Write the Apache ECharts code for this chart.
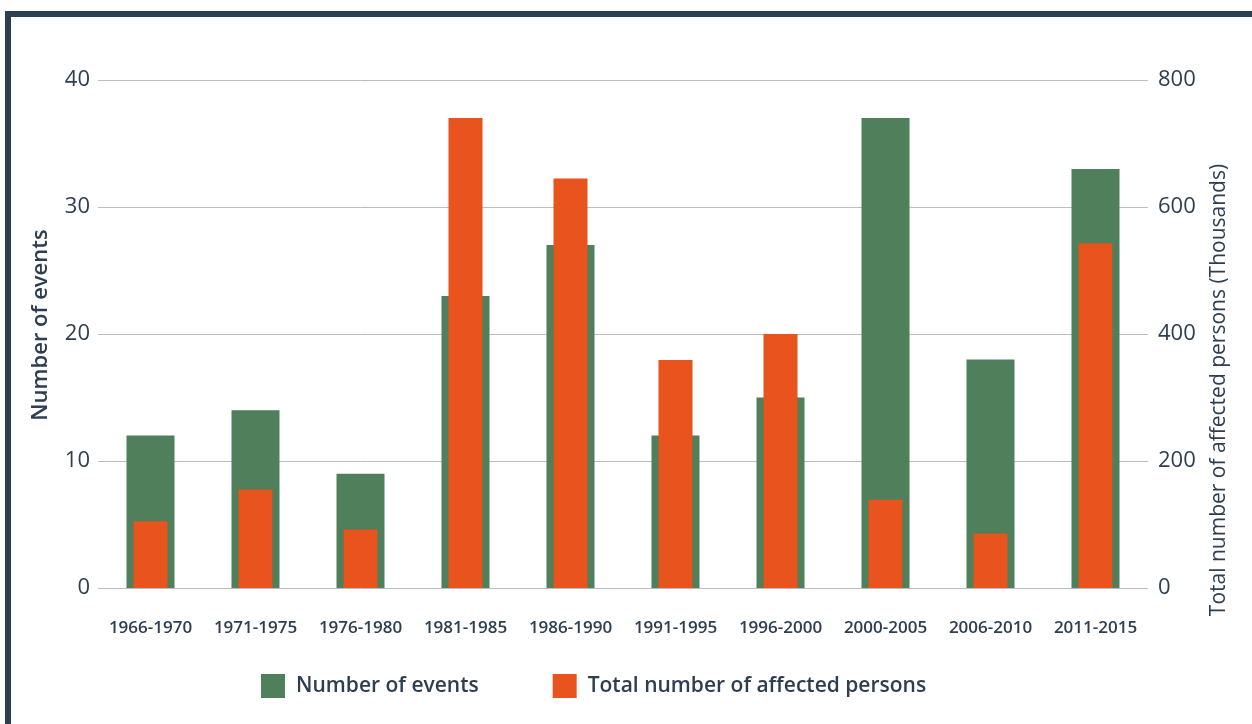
<!DOCTYPE html>
<html>
<head>
<meta charset="utf-8">
<script src="https://cdn.jsdelivr.net/npm/echarts@6/dist/echarts.min.js"></script>
<style>
  html, body { margin: 0; padding: 0; background: #fff; }
  #chart { width: 1252px; height: 724px; }
</style>
</head>
<body>
<div id="chart"></div>
<script>
(function() {
    // periods on the x axis
    const periods = ['1966-1970', '1971-1975', '1976-1980', '1981-1985', '1986-1990',
                     '1991-1995', '1996-2000', '2000-2005', '2006-2010', '2011-2015'];
    // left axis: number of events
    const eventCounts = [12, 14, 9, 23, 27, 12, 15, 37, 18, 33];
    // right axis: affected persons, thousands
    const affectedThousands = [105, 155, 92, 740, 645, 359, 400, 139, 86, 543];

    const leftTicks = { min: 0, max: 40, interval: 10 };
    const rightTicks = { min: 0, max: 800, interval: 200 };

    const ink = '#2c3e50';
    const green = '#4f7f5b';
    const orange = '#e8531e';
    const font = '"Open Sans", "Noto Sans", sans-serif';

    const myChart = echarts.init(document.getElementById('chart'));

    const catAxis = {
        type: 'category',
        data: periods,
        axisLine: { show: false },
        axisTick: { show: false },
        axisLabel: {
            color: ink, fontFamily: font, fontSize: 17, fontWeight: 600,
            margin: 32, interval: 0
        }
    };

    const option = {
        backgroundColor: '#fff',
        textStyle: { fontFamily: font },
        grid: { left: 98, right: 104, top: 80, bottom: 136 },
        legend: {
            bottom: 21,
            left: 256,
            itemWidth: 24,
            itemHeight: 24,
            itemGap: 74,
            icon: 'rect',
            textStyle: { color: ink, fontFamily: font, fontSize: 21, fontWeight: 600, padding: [0, 0, 0, 6] },
            data: ['Number of events', 'Total number of affected persons']
        },
        xAxis: [
            catAxis,
            Object.assign({}, catAxis, { show: false })
        ],
        yAxis: [
            {
                type: 'value',
                min: leftTicks.min, max: leftTicks.max, interval: leftTicks.interval,
                axisLine: { show: false },
                axisTick: { show: false },
                axisLabel: { color: ink, fontFamily: font, fontSize: 22, margin: 8 },
                splitLine: { lineStyle: { color: '#bdbdbd', width: 1 } }
            },
            {
                type: 'value',
                position: 'right',
                min: rightTicks.min, max: rightTicks.max, interval: rightTicks.interval,
                axisLine: { show: false },
                axisTick: { show: false },
                axisLabel: { color: ink, fontFamily: font, fontSize: 22, margin: 10 },
                splitLine: { show: false }
            }
        ],
        series: [
            {
                name: 'Number of events',
                type: 'bar',
                xAxisIndex: 0,
                yAxisIndex: 0,
                barWidth: 48,
                itemStyle: { color: green },
                data: eventCounts,
                z: 2
            },
            {
                name: 'Total number of affected persons',
                type: 'bar',
                xAxisIndex: 1,
                yAxisIndex: 1,
                barWidth: 34,
                itemStyle: { color: orange },
                data: affectedThousands,
                z: 3
            }
        ],
        graphic: [
            {
                type: 'rect',
                shape: { x: 8, y: 14, width: 1300, height: 800 },
                style: { fill: 'none', stroke: '#2b3f52', lineWidth: 6 },
                silent: true
            },
            {
                type: 'text',
                x: 41, y: 325,
                rotation: Math.PI / 2,
                style: {
                    text: 'Number of events', fill: ink, font: '600 22px ' + font,
                    align: 'center', verticalAlign: 'middle'
                }
            },
            {
                type: 'text',
                x: 1219, y: 390,
                rotation: Math.PI / 2,
                style: {
                    text: 'Total number of affected persons (Thousands)', fill: ink, font: '500 21px ' + font,
                    align: 'center', verticalAlign: 'middle'
                }
            }
        ]
    };

    myChart.setOption(option);
})();
</script>
</body>
</html>
